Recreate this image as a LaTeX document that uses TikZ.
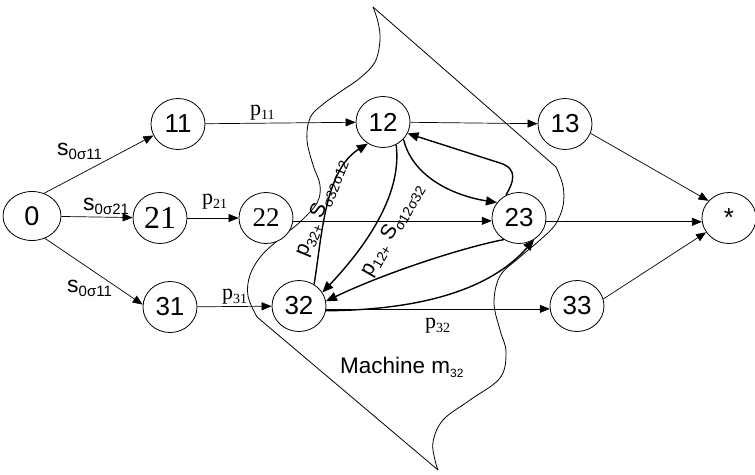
\documentclass[tikz,border=0pt]{standalone}
\usepackage{fontspec}
\setmainfont{Liberation Serif}
\setsansfont{Liberation Sans}
\usetikzlibrary{arrows.meta,shapes.geometric}
\newcommand\lsub[2][14]{\raisebox{-4.5pt}{\fontsize{#1}{#1}\selectfont #2}}
\begin{document}
\begin{tikzpicture}[x=1pt,y=-1pt,
  st/.style={draw, ellipse, fill=white, minimum width=54pt, minimum height=51pt,
    inner sep=0pt, line width=0.8pt, font=\sffamily\fontsize{26}{26}\selectfont},
  ar/.style={-{Triangle[length=10pt,width=8pt]}, line width=0.7pt},
  thk/.style={-{Triangle[length=11pt,width=9pt]}, line width=1.4pt},
  elab/.style={inner sep=0pt, anchor=base west, font=\sffamily\fontsize{23}{23}\selectfont},
  plab/.style={inner sep=0pt, anchor=base west, font=\rmfamily\fontsize{22}{22}\selectfont},
  rlab/.style={inner sep=0pt, font=\sffamily\fontsize{21}{21}\selectfont},
  outline/.style={line width=0.8pt}]
\useasboundingbox (0,0) rectangle (755,474);

% machine boundary
\draw[outline] (373,7) -- (556,167);
\draw[outline] plot[smooth, tension=0.6] coordinates {(556,167) (563,186) (563,206) (555,225) (540,240) (520,257) (500,276) (494,303) (500,330) (506,352) (500,378) (470,400) (443,420) (433,442) (435,460) (438,470)};
\draw[outline] (438,470) -- (257,317);
\draw[outline] plot[smooth, tension=0.6] coordinates {(257,317) (248,296) (250,275) (262,255) (283,236) (300,222) (317,203) (320,185) (313,165) (307,140) (310,118) (322,105) (340,92) (360,78) (375,62) (380,40) (378,22) (373,7)};

% nodes
\node[st, minimum width=58pt, minimum height=49pt, font=\sffamily\fontsize{27}{27}\selectfont] (n0) at (32,216) {0};
\node[st] (n11) at (178,124) {11};
\node[st, font=\rmfamily\fontsize{32}{32}\selectfont] (n21) at (160,218) {21};
\node[st] (n31) at (170,307) {31};
\node[st, font=\rmfamily\fontsize{27}{27}\selectfont] (n22) at (266,218) {22};
\node[st] (n12) at (383,122) {12};
\node[st] (n32) at (299,306) {32};
\node[st] (n13) at (565,124) {13};
\node[st] (n23) at (519,218) {23};
\node[st] (n33) at (577,306) {33};
\node[st, font=\sffamily\fontsize{26}{26}\selectfont] (ns) at (729,218) {*};

% straight connectors
\draw[ar] (n0.62) -- (n11.205);
\draw[ar] (n0) -- (n21);
\draw[ar] (n0.-60) -- (n31.175);
\draw[ar] (n11) -- (n12);
\draw[ar] (n21) -- (n22);
\draw[ar] (n22.-6) -- (n23.186);
\draw[ar] (n31) -- (n32);
\draw[ar] (n32.-6) -- (n33.186);
\draw[ar] (n12) -- (n13);
\draw[ar] (n13.-20) -- (ns.140);
\draw[ar] (n23.-8) -- (ns.188);
\draw[ar] (n33.15) -- (ns.212);

% curved connectors
\draw[thk] (n12.-40) .. controls (412,175) and (450,195) .. (n23.145);
\draw[thk] (n23.120) .. controls (513,183) and (519,169) .. (500,163) -- (n12.-25);
\draw[thk] (n12.-60) .. controls (402,190) and (372,240) .. (n32.30);
\draw[thk] (n32.55) .. controls (322,235) and (325,170) .. (n12.-125);
\draw[thk] (n23.-125) .. controls (460,248) and (380,275) .. (n32.10);
\draw[thk] (n32.-10) .. controls (420,310) and (490,290) .. (n23.-55);

% labels
\node[elab] (ls1) at (57,155) {s\lsub[15]{0σ11}};
\node[elab] (ls2) at (83,210) {s\lsub[15]{0σ21}};
\node[elab] (ls3) at (67,292) {s\lsub[15]{0σ11}};
\node[plab] (lp11) at (250,115) {p\lsub{11}};
\node[plab] (lp21) at (202,204) {p\lsub{21}};
\node[plab] (lp31) at (222,299) {p\lsub{31}};
\node[plab] (lp32) at (425,328) {p\lsub{32}};
\node[rlab, rotate=68] (lr1) at (321,208) {p\lsub{32+} S\lsub{σ32σ12}};
\node[rlab, rotate=60] (lr2) at (392,230) {p\lsub{12+} S\lsub{σ12σ32}};
\node[inner sep=0pt, anchor=base west, font=\sffamily\fontsize{22.5}{22.5}\selectfont] (lm) at (340,373) {Machine m\lsub[12]{32}};
\end{tikzpicture}
\end{document}
